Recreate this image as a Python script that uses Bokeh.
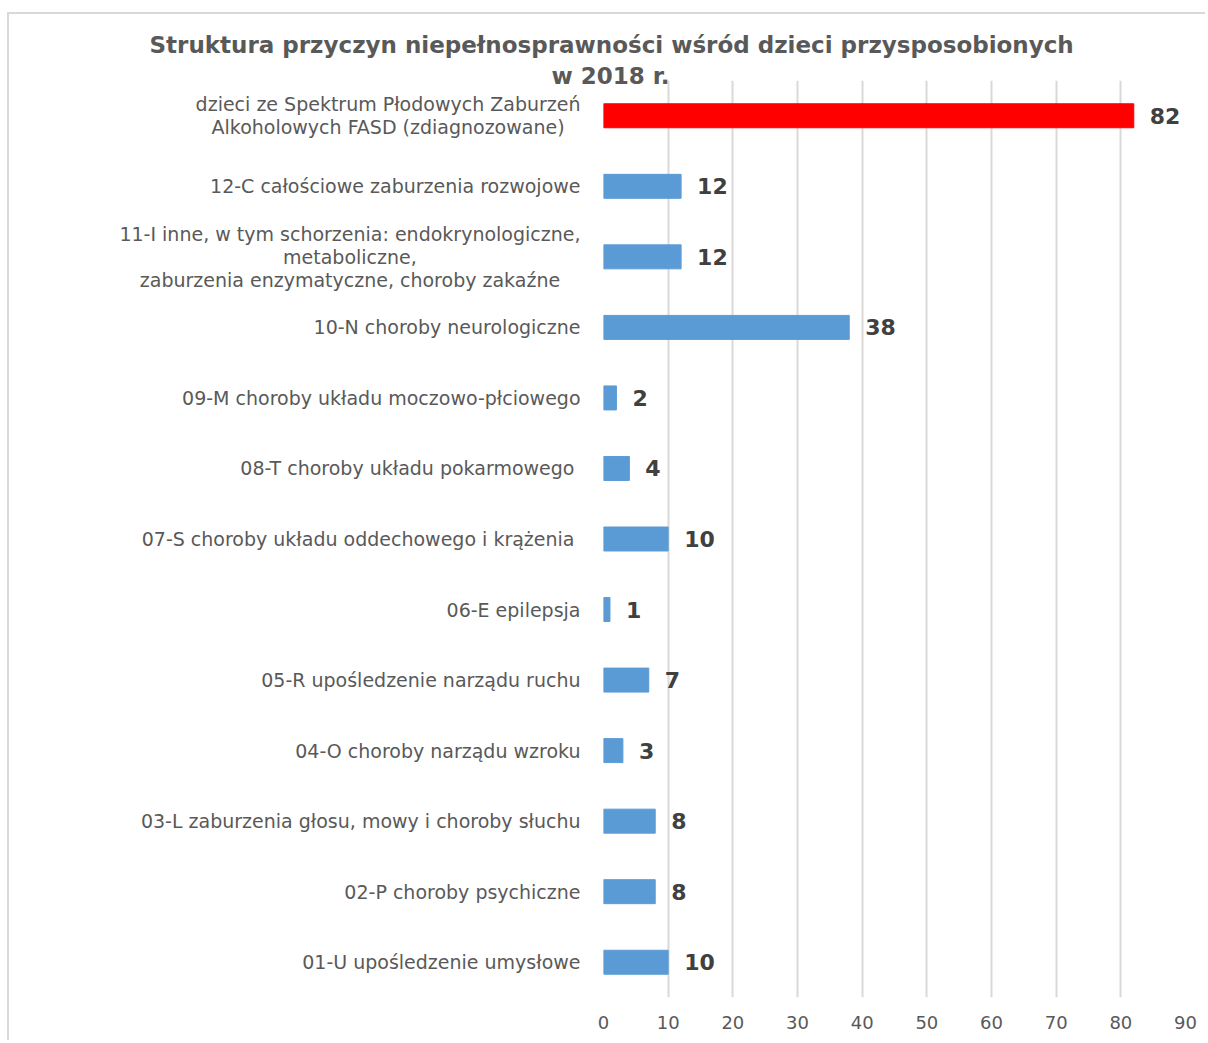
from bokeh.plotting import figure
from bokeh.models import (ColumnDataSource, Range1d, FactorRange, Title, SingleIntervalTicker,
                          InlineStyleSheet)
from bokeh.embed import file_html
from bokeh.resources import INLINE
from bokeh.core.properties import value

categories = [
    "01-U upośledzenie umysłowe",
    "02-P choroby psychiczne",
    "03-L zaburzenia głosu, mowy i choroby słuchu",
    "04-O choroby narządu wzroku",
    "05-R upośledzenie narządu ruchu",
    "06-E epilepsja",
    "07-S  choroby układu oddechowego i krążenia",
    "08-T  choroby układu pokarmowego",
    "09-M choroby układu moczowo-płciowego",
    "10-N choroby neurologiczne",
    "11-I inne, w tym schorzenia: endokrynologiczne,\nmetaboliczne,\nzaburzenia enzymatyczne, choroby zakaźne",
    "12-C całościowe zaburzenia rozwojowe",
    "dzieci ze Spektrum Płodowych Zaburzeń\nAlkoholowych FASD (zdiagnozowane)",
]
values = [10, 8, 8, 3, 7, 1, 10, 4, 2, 38, 12, 12, 82]
bar_colors = ["#5b9bd5"] * 12 + ["#ff0000"]
title_line1 = "Struktura przyczyn niepełnosprawności  wśród dzieci przysposobionych"
title_line2 = "w 2018 r."

FONT = "DejaVu Sans"
GRAY = "#595959"

src = ColumnDataSource(dict(cat=categories, val=values, color=bar_colors,
                            label=[str(v) for v in values]))

p = figure(width=1198, height=1028, output_backend="svg", toolbar_location=None,
           y_range=FactorRange(*categories, range_padding=0),
           x_range=Range1d(0, 90),
           min_border_left=594, min_border_right=22, min_border_bottom=45, min_border_top=66)
p.title = None
p.styles = {"border-top": "2px solid #d9d9d9", "border-left": "2px solid #d9d9d9",
            "margin-top": "12px", "margin-left": "7px"}
p.stylesheets = [InlineStyleSheet(css="text { white-space: pre; }")]

t2 = Title(text=title_line2, align="left", offset=-52, standoff=-16,
           text_font=FONT, text_font_size="23px", text_font_style="bold", text_color=GRAY)
t1 = Title(text=title_line1, align="left", offset=-454, standoff=22,
           text_font=FONT, text_font_size="23px", text_font_style="bold", text_color=GRAY)
p.add_layout(t2, "above")
p.add_layout(t1, "above")

p.hbar(y="cat", right="val", left=0, height=0.34, color="color", source=src)
p.text(x="val", y="cat", text="label", source=src, x_offset=16,
       text_align="left", text_baseline="middle",
       text_font=value(FONT), text_font_size="22px", text_font_style="bold",
       text_color="#404040")

# category labels: block right-aligned next to the axis, lines centred inside the block
p.text(x=0, y="cat", text="cat", source=src, x_offset=-23,
       anchor="center_right", text_align="center", text_baseline="middle",
       text_font=value(FONT), text_font_size="19px", text_color=GRAY,
       text_line_height=1.06, level="overlay")

p.outline_line_color = None
p.background_fill_color = "white"
p.border_fill_color = "white"

p.ygrid.grid_line_color = None
p.xgrid.grid_line_color = "#d9d9d9"
p.xgrid.grid_line_width = 2

p.xaxis.ticker = SingleIntervalTicker(interval=10)
p.xaxis.axis_line_color = None
p.xaxis.major_tick_line_color = None
p.xaxis.major_tick_in = 0
p.xaxis.major_tick_out = 0
p.xaxis.minor_tick_line_color = None
p.xaxis.major_label_text_font = FONT
p.xaxis.major_label_text_font_size = "18px"
p.xaxis.major_label_text_color = GRAY
p.xaxis.major_label_standoff = 14

p.yaxis.visible = False

open("out.html", "w").write(file_html(p, INLINE))
